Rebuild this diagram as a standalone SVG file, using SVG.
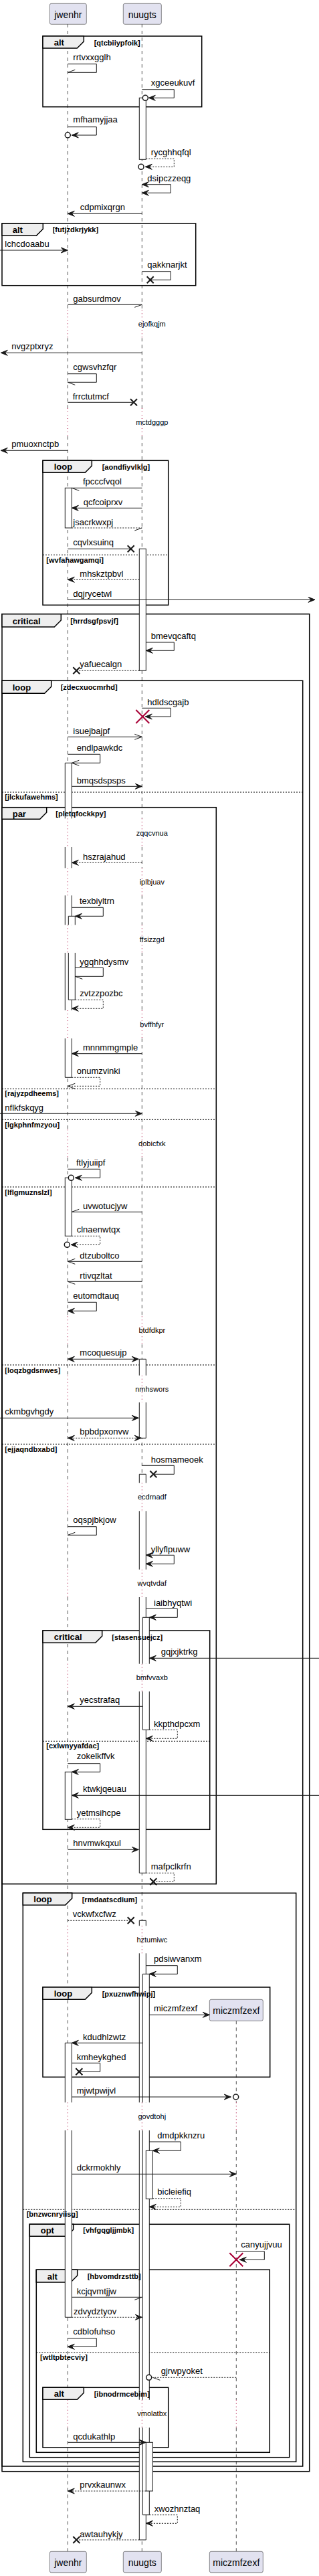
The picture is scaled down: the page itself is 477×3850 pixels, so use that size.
<svg xmlns="http://www.w3.org/2000/svg" width="477" height="3850" viewBox="0 0 477 3850">
<style>
text{font-family:"Liberation Sans",Arial,sans-serif;fill:#000}
.pt{font-size:14px;text-anchor:middle}
.ml{font-size:13px}
.dt{font-size:11px;text-anchor:middle}
.fl{font-size:13px;font-weight:bold}
.g{font-size:11px;font-weight:bold}
.pb{fill:#E2E2F0;stroke:#181818;stroke-width:0.5}
.ll{fill:none;stroke:#555;stroke-width:1;stroke-dasharray:5,5}
.dl{fill:none;stroke:#A80036;stroke-width:1;stroke-dasharray:1,4}
.f{fill:none;stroke:#000;stroke-width:1.5}
.tab{fill:#EEEEEE;stroke:#000;stroke-width:1.5}
.sep{fill:none;stroke:#000;stroke-width:1;stroke-dasharray:2,2}
.bar{fill:#fff;stroke:#181818;stroke-width:1}
.bf{fill:#fff;stroke:none}
.bs{fill:none;stroke:#181818;stroke-width:1}
.m{fill:none;stroke:#181818;stroke-width:1}
.md{fill:none;stroke:#181818;stroke-width:1;stroke-dasharray:2,2}
.ah{fill:#181818;stroke:#181818;stroke-width:1}
.x{fill:none;stroke:#181818;stroke-width:2}
.rx{fill:none;stroke:#A80036;stroke-width:2}
.c{fill:#fff;stroke:#181818;stroke-width:1.5}
</style>
<rect x="0" y="0" width="477" height="3850" fill="#fff"/>

<g id="lifelines">
<path class="ll" d="M101.3,36V463.3M101.3,505.3V610M101.3,652V1223.3M101.3,1266V1297.3M101.3,1338.3V1382.3M101.3,1424V1510M101.3,1552V1688.3M101.3,1730.3V1967.3M101.3,2009.3V2055.7M101.3,2096V2216.3M101.3,2258.3V2345.7M101.3,2387V2486.7M101.3,2528V2878.3M101.3,2919.3V3142.3M101.3,3184V3586.7M101.3,3628.3V3813.3"/>
<path class="ll" d="M212.3,36V463.3M212.3,505.3V610M212.3,652V1223.3M212.3,1266V1297.3M212.3,1338.3V1382.3M212.3,1424V1510M212.3,1552V1688.3M212.3,1730.3V1967.3M212.3,2009.3V2055.7M212.3,2096V2216.3M212.3,2258.3V2345.7M212.3,2387V2486.7M212.3,2528V2878.3M212.3,2919.3V3142.3M212.3,3184V3586.7M212.3,3628.3V3813.3"/>
<path class="ll" d="M353.3,3020.3V3142.3M353.3,3184V3586.7M353.3,3628.3V3813.3"/>
<path class="dl" d="M101.3,463.3V505.3M101.3,610V652M101.3,1223.3V1266M101.3,1297.3V1338.3M101.3,1382.3V1424M101.3,1510V1552M101.3,1688.3V1730.3M101.3,1967.3V2009.3M101.3,2055.7V2096M101.3,2216.3V2258.3M101.3,2345.7V2387M101.3,2486.7V2528M101.3,2878.3V2919.3M101.3,3142.3V3184M101.3,3586.7V3628.3"/>
<path class="dl" d="M212.3,463.3V505.3M212.3,610V652M212.3,1223.3V1266M212.3,1297.3V1338.3M212.3,1382.3V1424M212.3,1510V1552M212.3,1688.3V1730.3M212.3,1967.3V2009.3M212.3,2055.7V2096M212.3,2216.3V2258.3M212.3,2345.7V2387M212.3,2486.7V2528M212.3,2878.3V2919.3M212.3,3142.3V3184M212.3,3586.7V3628.3"/>
<path class="dl" d="M353.3,3142.3V3184M353.3,3586.7V3628.3"/>
</g>

<g id="frames">
<g id="f-alt1">
<rect class="f" x="64" y="54" width="237.7" height="105.7"/>
<path class="tab" d="M64,54H125.3V62L115.3,72H64Z"/>
</g>
<g id="f-alt2">
<rect class="f" x="3" y="334" width="289.7" height="92.7"/>
<path class="tab" d="M3,334H64.3V342.3L54.3,352.3H3Z"/>
</g>
<g id="f-loop1">
<rect class="f" x="64" y="688.3" width="187.7" height="216"/>
<path class="tab" d="M64,688.3H137.3V696.3L127.3,706.3H64Z"/>
<path class="sep" d="M64,829.3H251.7"/>
</g>
<g id="f-critical1">
<rect class="f" x="3" y="917.7" width="459.7" height="2776"/>
<path class="tab" d="M3,917.7H91.3V927L81.3,937H3Z"/>
</g>
<g id="f-loop2">
<rect class="f" x="3" y="1017.3" width="449.7" height="2668.7"/>
<path class="tab" d="M3,1017.3H76.7V1026.3L66.7,1036.3H3Z"/>
<path class="sep" d="M3,1184H452.7"/>
</g>
<g id="f-par">
<rect class="f" x="3" y="1206.7" width="320.3" height="1609"/>
<path class="tab" d="M3,1206.7H69.7V1214.3L59.7,1224.3H3Z"/>
<path class="sep" d="M3,1627.3H323.3M3,1673.3H323.3M3,1774H323.3M3,2040H323.3M3,2158.3H323.3"/>
</g>
<g id="f-critical2">
<rect class="f" x="64" y="2437" width="249.7" height="297.3"/>
<path class="tab" d="M64,2437H152.7V2445.3L142.7,2455.3H64Z"/>
<path class="sep" d="M64,2602.3H313.7"/>
</g>
<g id="f-loop3">
<rect class="f" x="34.3" y="2829.3" width="408.4" height="850"/>
<path class="tab" d="M34.3,2829.3H107.7V2837.3L97.7,2847.3H34.3Z"/>
<path class="sep" d="M34.3,3302.3H442.7"/>
</g>
<g id="f-loop4">
<rect class="f" x="64" y="2970" width="339.7" height="134.3"/>
<path class="tab" d="M64,2970H137.3V2978.3L127.3,2988.3H64Z"/>
</g>
<g id="f-opt">
<rect class="f" x="44.3" y="3324.3" width="388.4" height="348.4"/>
<path class="tab" d="M44.3,3324.3H109.7V3332.3L99.7,3342.3H44.3Z"/>
</g>
<g id="f-alt3">
<rect class="f" x="54.3" y="3392.3" width="349" height="273"/>
<path class="tab" d="M54.3,3392.3H115.7V3401L105.7,3411H54.3Z"/>
<path class="sep" d="M54.3,3516H403.3"/>
</g>
<g id="f-alt4">
<rect class="f" x="64" y="3568.3" width="187.7" height="89.7"/>
<path class="tab" d="M64,3568.3H125.3V3576.3L115.3,3586.3H64Z"/>
</g>
</g>

<g id="activations">
<rect class="bar" x="97.3" y="729.3" width="10" height="59.7"/>
<rect class="bf" x="97.3" y="1140.3" width="10" height="83"/><path class="bs" d="M97.3,1223.3V1140.3H107.3V1223.3"/>
<rect class="bf" x="97.3" y="1266" width="10" height="31.3"/><path class="bs" d="M97.3,1266V1297.3M107.3,1266V1297.3"/>
<rect class="bf" x="97.3" y="1338.3" width="10" height="44"/><path class="bs" d="M97.3,1338.3V1382.3M107.3,1338.3V1382.3"/>
<rect class="bf" x="97.3" y="1424" width="10" height="86"/><path class="bs" d="M97.3,1424V1510M107.3,1424V1510"/>
<rect class="bf" x="97.3" y="1552" width="10" height="58.3"/><path class="bs" d="M97.3,1552V1610.3H107.3V1552"/>
<rect class="bf" x="102.3" y="1369.3" width="10" height="13"/><path class="bs" d="M102.3,1382.3V1369.3H112.3V1382.3"/>
<rect class="bf" x="102.3" y="1424" width="10" height="70.3"/><path class="bs" d="M102.3,1424V1494.3H112.3V1424"/>
<rect class="bar" x="97.3" y="1760.3" width="10" height="87"/>
<rect class="bar" x="97.3" y="2648.3" width="10" height="71"/>
<rect class="bf" x="97.3" y="3053.3" width="10" height="89"/><path class="bs" d="M97.3,3142.3V3053.3H107.3V3142.3"/>
<rect class="bf" x="97.3" y="3184" width="10" height="279.3"/><path class="bs" d="M97.3,3184V3463.3H107.3V3184"/>

<rect class="bar" x="208.3" y="146.3" width="10" height="92"/>
<rect class="bar" x="208.3" y="820.3" width="10" height="182"/>
<rect class="bf" x="208.3" y="2031.3" width="10" height="24.4"/><path class="bs" d="M208.3,2055.7V2031.3H218.3V2055.7"/>
<rect class="bf" x="208.3" y="2096" width="10" height="53.3"/><path class="bs" d="M208.3,2096V2149.3H218.3V2096"/>
<rect class="bf" x="208.3" y="2203.3" width="10" height="13"/><path class="bs" d="M208.3,2216.3V2203.3H218.3V2216.3"/>
<rect class="bf" x="208.3" y="2258.3" width="10" height="87.4"/><path class="bs" d="M208.3,2258.3V2345.7M218.3,2258.3V2345.7"/>
<rect class="bf" x="208.3" y="2387" width="10" height="99.7"/><path class="bs" d="M208.3,2387V2486.7M218.3,2387V2486.7"/>
<rect class="bf" x="208.3" y="2528" width="10" height="271.3"/><path class="bs" d="M208.3,2528V2799.3H218.3V2528"/>
<rect class="bf" x="213.3" y="2417.3" width="10" height="69.4"/><path class="bs" d="M213.3,2486.7V2417.3H223.3V2486.7"/>
<rect class="bf" x="213.3" y="2528" width="10" height="57.3"/><path class="bs" d="M213.3,2528V2585.3H223.3V2528"/>
<rect class="bf" x="208.3" y="2870.3" width="10" height="8"/><path class="bs" d="M208.3,2878.3V2870.3H218.3V2878.3"/>
<rect class="bf" x="208.3" y="2919.3" width="10" height="223"/><path class="bs" d="M208.3,2919.3V3142.3M218.3,2919.3V3142.3"/>
<rect class="bf" x="208.3" y="3184" width="10" height="402.7"/><path class="bs" d="M208.3,3184V3586.7M218.3,3184V3586.7"/>
<rect class="bf" x="208.3" y="3628.3" width="10" height="167.7"/><path class="bs" d="M208.3,3628.3V3796H218.3V3628.3"/>
<rect class="bf" x="213.3" y="2950.3" width="10" height="192"/><path class="bs" d="M213.3,3142.3V2950.3H223.3V3142.3"/>
<rect class="bf" x="213.3" y="3184" width="10" height="402.7"/><path class="bs" d="M213.3,3184V3586.7M223.3,3184V3586.7"/>
<rect class="bf" x="213.3" y="3628.3" width="10" height="130.4"/><path class="bs" d="M213.3,3628.3V3758.7H223.3V3628.3"/>
<rect class="bar" x="218.3" y="3214.3" width="10" height="72"/>
<rect class="bar" x="218.3" y="3650.3" width="10" height="72.7"/>
</g>

<g id="frame-labels">
<text class="fl" x="80.7" y="68.3">alt</text>
<text class="g" x="140.7" y="67.7">[qtcbiiypfoik]</text>
<text class="fl" x="18.7" y="348.3">alt</text>
<text class="g" x="78.7" y="346.7">[futjzdkrjykk]</text>
<text class="fl" x="80.7" y="702.3">loop</text>
<text class="g" x="152.7" y="701.7">[aondfiyvlklg]</text>
<text class="g" x="69.3" y="840.7">[wvfahawgamqi]</text>
<text class="fl" x="18.7" y="932.7">critical</text>
<text class="g" x="105.3" y="931.7">[hrrdsgfpsvjf]</text>
<text class="fl" x="18.7" y="1031.7">loop</text>
<text class="g" x="90.7" y="1031">[zdecxuocmrhd]</text>
<text class="g" x="7.3" y="1195">[jlckufawehms]</text>
<text class="fl" x="18.7" y="1220.7">par</text>
<text class="g" x="83.3" y="1220">[pletqfockkpy]</text>
<text class="g" x="7.3" y="1638.3">[rajyzpdheems]</text>
<text class="g" x="7.3" y="1684.7">[lgkphnfmzyou]</text>
<text class="g" x="7.3" y="1785.7">[lflgmuznslzl]</text>
<text class="g" x="7.3" y="2051.7">[loqzbgdsnwes]</text>
<text class="g" x="7.3" y="2170">[ejjaqndbxabd]</text>
<text class="fl" x="80.7" y="2451.3">critical</text>
<text class="g" x="167.3" y="2450.7">[stasensuejcz]</text>
<text class="g" x="69.3" y="2613.3">[cxlwnyyafdac]</text>
<text class="fl" x="50.3" y="2843.3">loop</text>
<text class="g" x="122.7" y="2842.7">[rmdaatscdium]</text>
<text class="g" x="39.7" y="3313.3">[bnzwcnryiisg]</text>
<text class="fl" x="80.7" y="2984.3">loop</text>
<text class="g" x="152.7" y="2983.7">[pxuznwfhwipj]</text>
<text class="fl" x="60.7" y="3338.3">opt</text>
<text class="g" x="124.3" y="3336.7">[vhfgqgljjmbk]</text>
<text class="fl" x="70.7" y="3406.7">alt</text>
<text class="g" x="130.7" y="3405.7">[hbvomdrzsttb]</text>
<text class="g" x="60" y="3527.3">[wtltpbtecviy]</text>
<text class="fl" x="80.7" y="3582.3">alt</text>
<text class="g" x="140.7" y="3581.7">[ibnodrmcebim]</text>
</g>

<g id="participants">
<g id="p-jwenhr"><rect class="pb" x="74.3" y="5.3" width="55" height="31" rx="2.5"/><text class="pt" x="101.8" y="27.3">jwenhr</text></g>
<g id="p-nuugts"><rect class="pb" x="184.3" y="5.3" width="57" height="31" rx="2.5"/><text class="pt" x="212.8" y="27.3">nuugts</text></g>
<g id="p-miczmfzexf"><rect class="pb" x="313.3" y="2988.3" width="80" height="32" rx="2.5"/><text class="pt" x="353.3" y="3010.3">miczmfzexf</text></g>
<g id="p-jwenhr-bottom"><rect class="pb" x="74.3" y="3813.3" width="55" height="31.5" rx="2.5"/><text class="pt" x="101.8" y="3835.3">jwenhr</text></g>
<g id="p-nuugts-bottom"><rect class="pb" x="184.3" y="3813.3" width="57" height="31.5" rx="2.5"/><text class="pt" x="212.8" y="3835.3">nuugts</text></g>
<g id="p-miczmfzexf-bottom"><rect class="pb" x="313.3" y="3813.3" width="80" height="31.5" rx="2.5"/><text class="pt" x="353.3" y="3835.3">miczmfzexf</text></g>
</g>

<g id="connectors">
<path class="m" d="M101.3,95.7H144.3V108.3H101.3"/><path class="m" d="M101.3,108.3L112.3,104.3"/>
<path class="m" d="M212.3,133.7H260.3V146.3H222.3"/><polygon class="ah" points="222.3,146.3 232.3,142.3 228.3,146.3 232.3,150.3"/><circle class="c" cx="217.3" cy="146.3" r="4"/>
<path class="m" d="M101.3,189.7H144.3V202H107.3"/><polygon class="ah" points="107.3,202 117.3,198 113.3,202 117.3,206"/><circle class="c" cx="101.3" cy="202" r="4"/>
<path class="md" d="M218.3,237.3H260.3V249.3H217.3"/><polygon class="ah" points="217.3,249.3 227.3,245.3 223.3,249.3 227.3,253.3"/><circle class="c" cx="211" cy="249.3" r="4"/>
<path class="m" d="M212.3,275.7H255.3V288.3H212.3"/><polygon class="ah" points="212.3,275.7 222.3,271.7 218.3,275.7 222.3,279.7"/><polygon class="ah" points="212.3,288.3 222.3,284.3 218.3,288.3 222.3,292.3"/>
<path class="m" d="M212.3,319.3H101.3"/><polygon class="ah" points="101.3,319.3 111.3,315.3 107.3,319.3 111.3,323.3"/>
<path class="m" d="M0,374H101.3"/><polygon class="ah" points="101.3,374 91.3,370 95.3,374 91.3,378"/>
<path class="m" d="M212.3,405.7H255.3V418.3H224.7"/><path class="x" d="M219.7,413.3L229.7,423.3M229.7,413.3L219.7,423.3"/>
<path class="m" d="M101.3,455.3H212.3"/><path class="m" d="M212.3,455.3L201.3,459.3"/>
<path class="m" d="M212.3,527.3H1.3"/><polygon class="ah" points="1.3,527.3 11.3,523.3 7.3,527.3 11.3,531.3"/>
<path class="m" d="M101.3,558.7H144.3V571.3H101.3"/><path class="m" d="M101.3,571.3L112.3,575.3"/>
<path class="m" d="M101.3,601.3H200"/><path class="x" d="M195,596.3L205,606.3M205,596.3L195,606.3"/>
<path class="m" d="M101.3,673.3H1.3"/><polygon class="ah" points="1.3,673.3 11.3,669.3 7.3,673.3 11.3,677.3"/>
<path class="m" d="M212.3,729.3H107.3"/><path class="m" d="M107.3,729.3L118.3,733.3"/>
<path class="m" d="M212.3,759.3H107.3"/><polygon class="ah" points="107.3,759.3 117.3,755.3 113.3,759.3 117.3,763.3"/>
<path class="md" d="M107.3,789H212.3"/><path class="m" d="M212.3,789L201.3,793"/>
<path class="m" d="M101.3,820.3H195.7"/><path class="x" d="M190.7,815.3L200.7,825.3M200.7,815.3L190.7,825.3"/>
<path class="md" d="M208.3,866.3H101.3"/><polygon class="ah" points="101.3,866.3 111.3,862.3 107.3,866.3 111.3,870.3"/>
<path class="m" d="M101.3,896.3H471"/><polygon class="ah" points="471,896.3 461,892.3 465,896.3 461,900.3"/>
<path class="m" d="M218.3,960H260.3V972.3H218.3"/><polygon class="ah" points="218.3,972.3 228.3,968.3 224.3,972.3 228.3,976.3"/>
<path class="md" d="M208.3,1002.3H114.3"/><path class="x" d="M109.3,997.3L119.3,1007.3M119.3,997.3L109.3,1007.3"/>
<path class="m" d="M212.3,1058.3H255.3V1071H217.3"/><polygon class="ah" points="217.3,1071 227.3,1067 223.3,1071 227.3,1075"/><path class="rx" d="M203.3,1061L223.3,1081M223.3,1061L203.3,1081"/>
<path class="m" d="M101.3,1101.3H212.3"/><path class="m" d="M201.3,1097.3L212.3,1101.3L201.3,1105.3"/>
<path class="m" d="M101.3,1127.3H149.7V1140.3H107.3"/><path class="m" d="M118.3,1136.3L107.3,1140.3L118.3,1144.3"/>
<path class="m" d="M107.3,1175.3H212.3"/><polygon class="ah" points="212.3,1175.3 202.3,1171.3 206.3,1175.3 202.3,1179.3"/>
<path class="md" d="M212.3,1289.3H107.3"/><polygon class="ah" points="107.3,1289.3 117.3,1285.3 113.3,1289.3 117.3,1293.3"/>
<path class="m" d="M107.3,1356.3H154.3V1369.3H112.3"/><polygon class="ah" points="112.3,1369.3 122.3,1365.3 118.3,1369.3 122.3,1373.3"/>
<path class="m" d="M112.3,1446.3H154.3V1459.3H112.3"/><path class="m" d="M112.3,1459.3L123.3,1463.3"/>
<path class="md" d="M112.3,1494.3H154.3V1507.3H107.3"/><polygon class="ah" points="107.3,1507.3 117.3,1503.3 113.3,1507.3 117.3,1511.3"/>
<path class="m" d="M212.3,1574.7H107.3"/><polygon class="ah" points="107.3,1574.7 117.3,1570.7 113.3,1574.7 117.3,1578.7"/>
<path class="md" d="M107.3,1610.3H149.7V1623.3H101.3"/><path class="m" d="M112.3,1619.3L101.3,1623.3L112.3,1627.3"/>
<path class="m" d="M0,1664.3H212.3"/><polygon class="ah" points="212.3,1664.3 202.3,1660.3 206.3,1664.3 202.3,1668.3"/>
<path class="m" d="M101.3,1747.3H149.7V1760.3H112.3"/><polygon class="ah" points="112.3,1760.3 122.3,1756.3 118.3,1760.3 122.3,1764.3"/><circle class="c" cx="106.3" cy="1760.3" r="4"/>
<path class="m" d="M212.3,1811.3H107.3"/><path class="m" d="M107.3,1811.3L118.3,1807.3"/>
<path class="md" d="M107.3,1847.3H149.7V1860.3H106"/><polygon class="ah" points="106,1860.3 116,1856.3 112,1860.3 116,1864.3"/><circle class="c" cx="100.3" cy="1860.3" r="4"/>
<path class="m" d="M212.3,1885.3H101.3"/><path class="m" d="M112.3,1881.3L101.3,1885.3L112.3,1889.3"/>
<path class="m" d="M212.3,1915.3H101.3"/><path class="m" d="M101.3,1915.3L112.3,1919.3"/>
<path class="m" d="M101.3,1946.3H144.3V1959.3H101.3"/><polygon class="ah" points="101.3,1959.3 111.3,1955.3 107.3,1959.3 111.3,1963.3"/>
<path class="m" d="M101.3,2031.3H207.3"/><polygon class="ah" points="101.3,2031.3 111.3,2027.3 107.3,2031.3 111.3,2035.3"/><polygon class="ah" points="207.3,2031.3 197.3,2027.3 201.3,2031.3 197.3,2035.3"/>
<path class="m" d="M0,2119.3H207.3"/><polygon class="ah" points="207.3,2119.3 197.3,2115.3 201.3,2119.3 197.3,2123.3"/>
<path class="md" d="M101.3,2149.3H211.3"/><polygon class="ah" points="101.3,2149.3 111.3,2145.3 107.3,2149.3 111.3,2153.3"/><polygon class="ah" points="211.3,2149.3 201.3,2145.3 205.3,2149.3 201.3,2153.3"/>
<path class="m" d="M212.3,2190.3H260.3V2203.3H229.3"/><path class="x" d="M224.3,2198.3L234.3,2208.3M234.3,2198.3L224.3,2208.3"/>
<path class="m" d="M101.3,2281.7H144.3V2294.3H101.3"/><path class="m" d="M101.3,2294.3L112.3,2290.3"/>
<path class="m" d="M218.3,2324.3H260.3V2337.3H218.3"/><polygon class="ah" points="218.3,2324.3 228.3,2320.3 224.3,2324.3 228.3,2328.3"/><polygon class="ah" points="218.3,2337.3 228.3,2333.3 224.3,2337.3 228.3,2341.3"/>
<path class="m" d="M218.3,2404.3H265.3V2417.3H223.3"/><polygon class="ah" points="223.3,2417.3 233.3,2413.3 229.3,2417.3 233.3,2421.3"/>
<path class="m" d="M477,2478.3H223.3"/><polygon class="ah" points="223.3,2478.3 233.3,2474.3 229.3,2478.3 233.3,2482.3"/>
<path class="m" d="M213.3,2550.3H101.3"/><polygon class="ah" points="101.3,2550.3 111.3,2546.3 107.3,2550.3 111.3,2554.3"/>
<path class="md" d="M223.3,2585.3H265.3V2598.3H218.3"/><polygon class="ah" points="218.3,2598.3 228.3,2594.3 224.3,2598.3 228.3,2602.3"/>
<path class="m" d="M101.3,2635.7H149.7V2648.3H107.3"/><polygon class="ah" points="107.3,2648.3 117.3,2644.3 113.3,2648.3 117.3,2652.3"/>
<path class="m" d="M477,2683.3H107.3"/><polygon class="ah" points="107.3,2683.3 117.3,2679.3 113.3,2683.3 117.3,2687.3"/>
<path class="md" d="M107.3,2718.7H149.7V2731.3H101.3"/><polygon class="ah" points="101.3,2731.3 111.3,2727.3 107.3,2731.3 111.3,2735.3"/>
<path class="m" d="M101.3,2764.3H207.3"/><polygon class="ah" points="207.3,2764.3 197.3,2760.3 201.3,2764.3 197.3,2768.3"/>
<path class="md" d="M218.3,2799.3H260.3V2812.3H229.3"/><path class="x" d="M224.3,2807.3L234.3,2817.3M234.3,2807.3L224.3,2817.3"/>
<path class="md" d="M101.3,2870.3H195.7"/><path class="x" d="M190.7,2865.3L200.7,2875.3M200.7,2865.3L190.7,2875.3"/>
<path class="m" d="M218.3,2937.7H265.3V2950.3H223.3"/><polygon class="ah" points="223.3,2950.3 233.3,2946.3 229.3,2950.3 233.3,2954.3"/>
<path class="m" d="M223.3,3011.3H313.3"/><polygon class="ah" points="313.3,3011.3 303.3,3007.3 307.3,3011.3 303.3,3015.3"/>
<path class="m" d="M213.3,3053.3H107.3"/><polygon class="ah" points="107.3,3053.3 117.3,3049.3 113.3,3053.3 117.3,3057.3"/>
<path class="m" d="M107.3,3083.3H149.7V3096.3H118.3"/><path class="x" d="M113.3,3091.3L123.3,3101.3M123.3,3091.3L113.3,3101.3"/>
<path class="m" d="M107.3,3134H345.3"/><polygon class="ah" points="345.3,3134 335.3,3130 339.3,3134 335.3,3138"/><circle class="c" cx="352.7" cy="3134" r="4"/>
<path class="m" d="M223.3,3201H270.3V3214.3H228.3"/><polygon class="ah" points="228.3,3214.3 238.3,3210.3 234.3,3214.3 238.3,3218.3"/>
<path class="m" d="M107.3,3249.3H353.3"/><polygon class="ah" points="353.3,3249.3 343.3,3245.3 347.3,3249.3 343.3,3253.3"/>
<path class="md" d="M228.3,3285.7H270.3V3298.3H223.3"/><polygon class="ah" points="223.3,3298.3 233.3,3294.3 229.3,3298.3 233.3,3302.3"/>
<path class="m" d="M353.3,3364.7H395.3V3377.3H358.3"/><polygon class="ah" points="358.3,3377.3 368.3,3373.3 364.3,3377.3 368.3,3381.3"/><path class="rx" d="M343.3,3367.3L363.3,3387.3M363.3,3367.3L343.3,3387.3"/>
<path class="m" d="M107.3,3433.3H212.3"/><path class="m" d="M212.3,3433.3L201.3,3437.3"/>
<path class="md" d="M107.3,3463.3H212.3"/><polygon class="ah" points="212.3,3463.3 202.3,3459.3 206.3,3463.3 202.3,3467.3"/>
<path class="m" d="M101.3,3494.7H144.3V3507.3H101.3"/><polygon class="ah" points="101.3,3507.3 111.3,3503.3 107.3,3507.3 111.3,3511.3"/>
<path class="md" d="M353.3,3553.3H228.3"/><path class="m" d="M228.3,3553.3L239.3,3557.3"/><circle class="c" cx="222.7" cy="3553.3" r="4"/>
<path class="m" d="M101.3,3650.3H218.3"/><polygon class="ah" points="218.3,3650.3 208.3,3646.3 212.3,3650.3 208.3,3654.3"/>
<path class="md" d="M218.3,3723H101.3"/><polygon class="ah" points="101.3,3723 111.3,3719 107.3,3723 111.3,3727"/>
<path class="md" d="M223.3,3758.7H265.3V3771.3H218.3"/><polygon class="ah" points="218.3,3771.3 228.3,3767.3 224.3,3771.3 228.3,3775.3"/>
<path class="md" d="M208.3,3796H114.3"/><path class="x" d="M109.3,3791L119.3,3801M119.3,3791L109.3,3801"/>
</g>

<g id="labels">
<text class="ml" x="109.3" y="90">rrtvxxgglh</text>
<text class="ml" x="225.7" y="128.3">xgceeukuvf</text>
<text class="ml" x="109.3" y="183.3">mfhamyjjaa</text>
<text class="ml" x="225.7" y="232.3">rycghhqfql</text>
<text class="ml" x="220.3" y="270.7">dsipczzeqg</text>
<text class="ml" x="119.7" y="314">cdpmixqrgn</text>
<text class="ml" x="7.3" y="369.3">lchcdoaabu</text>
<text class="ml" x="220.3" y="400">qakknarjkt</text>
<text class="ml" x="109.3" y="450.7">gabsurdmov</text>
<text class="ml" x="17.3" y="522.3">nvgzptxryz</text>
<text class="ml" x="109.3" y="553.3">cgwsvhzfqr</text>
<text class="ml" x="108.7" y="597.3">frrctutmcf</text>
<text class="ml" x="17.3" y="668.3">pmuoxnctpb</text>
<text class="ml" x="124" y="724">fpcccfvqol</text>
<text class="ml" x="124.7" y="755">qcfcoiprxv</text>
<text class="ml" x="109.3" y="785">jsacrkwxpj</text>
<text class="ml" x="109.3" y="815">cqvlxsuinq</text>
<text class="ml" x="119.3" y="861.7">mhskztpbvl</text>
<text class="ml" x="109.3" y="891.7">dqjrycetwl</text>
<text class="ml" x="225.7" y="955">bmevqcaftq</text>
<text class="ml" x="119.3" y="997.3">yafuecalgn</text>
<text class="ml" x="220.3" y="1054">hdldscgajb</text>
<text class="ml" x="109.3" y="1096.7">isuejbajpf</text>
<text class="ml" x="114.7" y="1121.7">endlpawkdc</text>
<text class="ml" x="114.7" y="1171">bmqsdspsps</text>
<text class="ml" x="124" y="1285">hszrajahud</text>
<text class="ml" x="119" y="1351">texbiyltrn</text>
<text class="ml" x="119.3" y="1442">ygqhhdysmv</text>
<text class="ml" x="119.3" y="1489.3">zvtzzpozbc</text>
<text class="ml" x="124" y="1570">mnnmmgmple</text>
<text class="ml" x="114.7" y="1605">onumzvinki</text>
<text class="ml" x="7.3" y="1660">nflkfskqyg</text>
<text class="ml" x="114" y="1742.3">ftlyjuiipf</text>
<text class="ml" x="124" y="1806.7">uvwotucjyw</text>
<text class="ml" x="114.7" y="1842.3">clnaenwtqx</text>
<text class="ml" x="119.3" y="1880.7">dtzuboltco</text>
<text class="ml" x="119.3" y="1910.7">rtivqzltat</text>
<text class="ml" x="109.3" y="1941">eutomdtauq</text>
<text class="ml" x="119.3" y="2026">mcoquesujp</text>
<text class="ml" x="7.3" y="2114">ckmbgvhgdy</text>
<text class="ml" x="119.3" y="2144.3">bpbdpxonvw</text>
<text class="ml" x="225.7" y="2186">hosmameoek</text>
<text class="ml" x="109.3" y="2275.7">oqspjbkjow</text>
<text class="ml" x="225.7" y="2320">yllyflpuww</text>
<text class="ml" x="230" y="2399.7">iaibhyqtwi</text>
<text class="ml" x="240.7" y="2473.3">gqjxjktrkg</text>
<text class="ml" x="119.3" y="2545">yecstrafaq</text>
<text class="ml" x="230" y="2580.7">kkpthdpcxm</text>
<text class="ml" x="114.7" y="2629.3">zokelkffvk</text>
<text class="ml" x="124" y="2678.3">ktwkjqeuau</text>
<text class="ml" x="114.7" y="2713.7">yetmsihcpe</text>
<text class="ml" x="109.3" y="2759">hnvmwkqxul</text>
<text class="ml" x="225.7" y="2794.3">mafpclkrfn</text>
<text class="ml" x="108.7" y="2865">vckwfxcfwz</text>
<text class="ml" x="230" y="2932.3">pdsiwvanxm</text>
<text class="ml" x="230" y="3006">miczmfzexf</text>
<text class="ml" x="124" y="3048.7">kdudhlzwtz</text>
<text class="ml" x="114.7" y="3078.7">kmheykghed</text>
<text class="ml" x="114.7" y="3129">mjwtpwijvl</text>
<text class="ml" x="235.3" y="3196">dmdpkknzru</text>
<text class="ml" x="114.7" y="3244.3">dckrmokhly</text>
<text class="ml" x="235.3" y="3280">bicleiefiq</text>
<text class="ml" x="360.3" y="3359.3">canyujjvuu</text>
<text class="ml" x="114.7" y="3428.7">kcjqvmtjjw</text>
<text class="ml" x="110" y="3458.7">zdvydztyov</text>
<text class="ml" x="109.3" y="3488.7">cdblofuhso</text>
<text class="ml" x="240.7" y="3548.3">gjrwpyoket</text>
<text class="ml" x="109.3" y="3645.7">qcdukathlp</text>
<text class="ml" x="119.3" y="3718">prvxkaunwx</text>
<text class="ml" x="230.7" y="3754.3">xwozhnztaq</text>
<text class="ml" x="119.3" y="3791.7">awtauhykjy</text>
</g>

<g id="delays">
<text class="dt" x="227.3" y="488.3">ejofkqjm</text>
<text class="dt" x="227.3" y="635">mctdgggp</text>
<text class="dt" x="227.3" y="1249.3">zqqcvnua</text>
<text class="dt" x="227.3" y="1321.7">iplbjuav</text>
<text class="dt" x="227.3" y="1407.7">ffsizzgd</text>
<text class="dt" x="227.3" y="1535">bvffhfyr</text>
<text class="dt" x="227.3" y="1713.3">dobicfxk</text>
<text class="dt" x="227.3" y="1992.3">btdfdkpr</text>
<text class="dt" x="227.3" y="2080">nmhswors</text>
<text class="dt" x="227.3" y="2240.7">ecdrnadf</text>
<text class="dt" x="227.3" y="2370">wvqtvdaf</text>
<text class="dt" x="227.3" y="2510.7">bmfvvaxb</text>
<text class="dt" x="227.3" y="2903.3">hztumiwc</text>
<text class="dt" x="227.3" y="3167.3">govdtohj</text>
<text class="dt" x="227.3" y="3611">vmolatbx</text>
</g>
</svg>
